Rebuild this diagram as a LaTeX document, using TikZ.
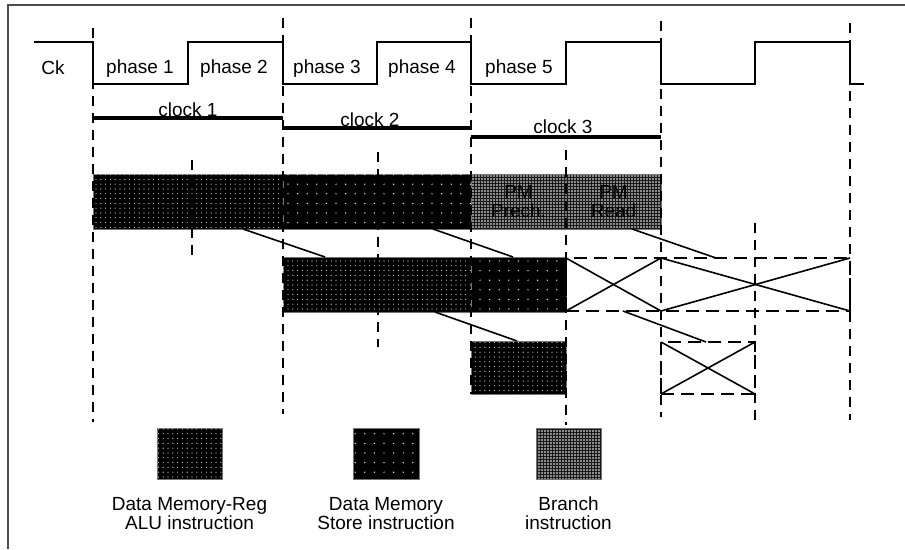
\documentclass[tikz,border=0pt]{standalone}
\usepackage{fontspec}
\setmainfont{Liberation Sans}
\usepackage{tikz}
\usetikzlibrary{positioning,calc,patterns.meta}

\begin{document}
\begin{tikzpicture}[
  x=1pt, y=-1pt,
  every node/.style={font=\fontsize{19}{19}\selectfont, inner sep=0pt, outer sep=0pt},
  bar/.style={draw=black!55, line width=0.8pt, anchor=north west, minimum height=55pt},
  alu/.style={bar, fill=black, postaction={pattern={Dots[distance=4.8pt, radius=0.6pt]}, pattern color=black!15}},
  store/.style={bar, fill=black, postaction={pattern={Dots[distance=9.6pt, radius=0.7pt]}, pattern color=white}},
  branch/.style={bar, fill=black!45},
  mesh/.style={black!90, line width=0.6pt, step=3pt},
  pmtext/.style={align=center},
  stall/.style={draw, line width=2pt, dash pattern=on 13pt off 7pt, anchor=north west},
  grid/.style={line width=2pt, dash pattern=on 10pt off 7pt},
  link/.style={line width=1.6pt},
  wave/.style={line width=1.3pt},
  period/.style={line width=3.5pt}
]
\useasboundingbox (0,0) rectangle (905,549);
\draw[black!70, line width=1.5pt] (8,549) -- (8,5) -- (905,5);

% clock
\draw[wave] (34,42) -- (93,42) -- (93,84) -- (188,84) -- (188,42) -- (283,42) -- (283,84)
  -- (377,84) -- (377,42) -- (471,42) -- (471,84) -- (566,84) -- (566,42) -- (661,42)
  -- (661,84) -- (755,84) -- (755,42) -- (850,42) -- (850,84) -- (864,84);
\node[anchor=base] (ck) at (53,74) {Ck};
\node[anchor=base] (ph1) at (140,73) {phase 1};
\node[anchor=base] (ph2) at (234,73) {phase 2};
\node[anchor=base] (ph3) at (327,73) {phase 3};
\node[anchor=base] (ph4) at (422,73) {phase 4};
\node[anchor=base] (ph5) at (519,73) {phase 5};

\draw[period] (93,118) -- (283,118);
\draw[period] (283,128) -- (471,128);
\draw[period] (471,137) -- (661,137);
\node[anchor=base] (clk1) at (188,116) {clock 1};
\node[anchor=base] (clk2) at (370,126) {clock 2};
\node[anchor=base] (clk3) at (563,133) {clock 3};

% pipeline
\node[alu, minimum width=190pt] (alu1) at (93,174) {};
\node[store, minimum width=188pt] (store1) at (283,174) {};
\node[branch, minimum width=95pt] (prech) at (471,174) {};
\node[branch, minimum width=95pt] (read) at (566,174) {};
\draw[mesh] (prech.south west) grid (read.north east);
\draw[black!55, line width=0.8pt] (prech.north west) rectangle (read.south east);
\node[pmtext] (prechlbl) at (prech.center) {PM\\Prech.};
\node[pmtext] (readlbl) at (read.center) {PM\\Read};

\node[alu, minimum width=188pt] (alu2) at (283,257) {};
\node[store, minimum width=95pt] (store2) at (471,257) {};
\node[stall, minimum width=284pt, minimum height=53pt] (stall2) at (566,258) {};

\node[alu, minimum width=95pt, minimum height=53pt] (alu3) at (471,341) {};
\node[stall, minimum width=94pt, minimum height=52pt] (stall3) at (661,342) {};

\draw[link] (stall2.north west) -- ($(stall2.south west)+(95,0)$);
\draw[link] (stall2.south west) -- ($(stall2.north west)+(95,0)$);
\draw[link] ($(stall2.north west)+(95,0)$) -- (stall2.south east);
\draw[link] ($(stall2.south west)+(95,0)$) -- (stall2.north east);
\draw[link] (stall3.north west) -- (stall3.south east);
\draw[link] (stall3.south west) -- (stall3.north east);

\draw[link] ($(alu1.south west)+(150,0)$) -- ($(alu2.north west)+(42,0)$);
\draw[link] ($(store1.south west)+(150,0)$) -- ($(store2.north west)+(42,0)$);
\draw[link] ($(read.south west)+(66,0)$) -- ($(stall2.north west)+(150,0)$);
\draw[link] ($(alu2.south west)+(152,0)$) -- ($(alu3.north west)+(46,0)$);
\draw[link] ($(stall2.south west)+(57,0)$) -- ($(stall3.north west)+(45,0)$);

% time grid
\draw[grid] (93,28) -- (93,422);
\draw[grid] (283,18) -- (283,414);
\draw[grid] (471,18) -- (471,394);
\draw[grid] (661,21) -- (661,417);
\draw[grid] (850,23) -- (850,420);
\draw[grid] (192,160) -- (192,257);
\draw[grid] (378,152) -- (378,347);
\draw[grid] (566,150) -- (566,425);
\draw[grid] (755,223) -- (755,422);

% legend
\node[alu, minimum width=65pt, minimum height=51pt] (legalu) at (157,428) {};
\node[store, minimum width=66pt, minimum height=51pt] (legstore) at (353,428) {};
\node[branch, minimum width=65pt, minimum height=51pt] (legbranch) at (536,428) {};
\draw[mesh] (legbranch.south west) grid (legbranch.north east);
\draw[black!55, line width=0.8pt] (legbranch.north west) rectangle (legbranch.south east);
\node[align=center, below=18pt of legalu] (txtalu) {Data Memory-Reg\\ALU instruction};
\node[align=center, below=18pt of legstore] (txtstore) {Data Memory\\Store instruction};
\node[align=center, below=18pt of legbranch] (txtbranch) {Branch\\instruction};
\end{tikzpicture}
\end{document}
